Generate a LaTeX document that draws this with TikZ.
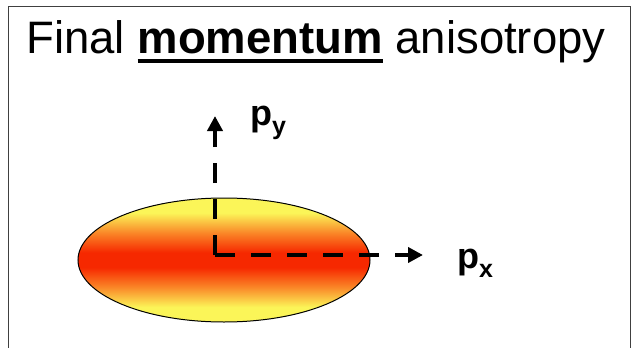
\documentclass[tikz,border=0pt]{standalone}
\usepackage{fontspec}
\setmainfont{Liberation Sans}
\usetikzlibrary{arrows.meta}

\newcommand{\thickul}[1]{\setbox0\hbox{#1}\rlap{\rule[-9pt]{\wd0}{3.5pt}}\box0\relax}

\definecolor{hotyellow}{RGB}{251,245,88}
\definecolor{hotorange}{RGB}{250,135,40}
\definecolor{hotred}{RGB}{246,40,0}
\pgfdeclareverticalshading{emission}{100bp}{
    color(0bp)=(hotyellow); color(31bp)=(hotyellow); color(39bp)=(hotorange);
    color(47bp)=(hotred); color(53bp)=(hotred); color(61bp)=(hotorange);
    color(69bp)=(hotyellow); color(100bp)=(hotyellow)}

\tikzset{
    axis/.style={line width=4pt, dash pattern=on 20pt off 16pt, -{Triangle[length=15pt,width=15pt]}},
    plabel/.style={font=\fontsize{36}{36}\selectfont\bfseries, inner sep=0pt}
}

\begin{document}
\begin{tikzpicture}[x=1pt,y=-1pt]
    \useasboundingbox (0,0) rectangle (635,348);
    \draw[line width=1pt,black!75] (8,348) -- (8,6) -- (630,6) -- (630,348);

    \node[inner sep=0pt] (title) at (316,42)
        {\fontsize{45.5}{45.5}\selectfont Final \thickul{\bfseries momentum} anisotropy};

    % the emission region
    \draw[line width=1pt, shading=emission]
        (224,260) ellipse[x radius=146, y radius=62];

    \coordinate (o) at (215,255);
    \coordinate (ytip) at (215,116);
    \coordinate (xtip) at (423,255);
    \draw[axis] (o) -- (ytip);
    \draw[axis] (o) -- (xtip);

    \node[plabel] (py) at (268,123) {p\raisebox{-9pt}{\fontsize{25}{25}\selectfont y}};
    \node[plabel] (px) at (475,263) {p\raisebox{-9pt}{\fontsize{25}{25}\selectfont x}};
\end{tikzpicture}
\end{document}
